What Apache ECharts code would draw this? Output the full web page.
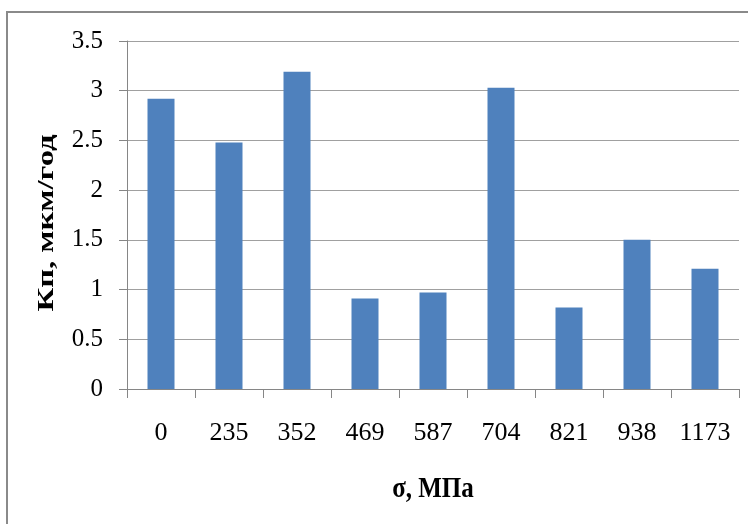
<!DOCTYPE html>
<html>
<head>
<meta charset="utf-8">
<script src="https://cdn.jsdelivr.net/npm/echarts@6/dist/echarts.min.js"></script>
<style>
  html, body { margin: 0; padding: 0; background: #fff; }
  #chart { width: 748px; height: 524px; }
</style>
</head>
<body>
<div id="chart"></div>
<script>
// Stress levels (MPa) and corrosion rate (µm/year)
const stressLevels = ['0', '235', '352', '469', '587', '704', '821', '938', '1173'];
const corrosionRate = [2.92, 2.48, 3.19, 0.91, 0.97, 3.03, 0.82, 1.50, 1.21];
const yTicks = [0, 0.5, 1, 1.5, 2, 2.5, 3, 3.5];
const xTitle = 'σ, МПа';
const yTitle = 'Кп, мкм/год';

const serif = '"Liberation Serif", "DejaVu Serif", serif';
const axisGray = '#868686';

const chart = echarts.init(document.getElementById('chart'), null, { renderer: 'canvas' });

chart.setOption({
  animation: false,
  backgroundColor: '#ffffff',
  graphic: [
    {
      type: 'rect',
      shape: { x: 7, y: 12, width: 800, height: 600 },
      style: { fill: 'none', stroke: '#8a8a8a', lineWidth: 2 },
      silent: true
    },
    {
      // axis titles, drawn slightly tall like the tick labels' typeface
      type: 'text',
      x: 433, y: 489,
      scaleY: 1.2,
      style: {
        text: xTitle, fill: '#000',
        font: 'bold 25px ' + serif,
        align: 'center', verticalAlign: 'middle'
      },
      silent: true
    },
    {
      type: 'text',
      x: 47, y: 223,
      rotation: Math.PI / 2,
      scaleX: 1.36,
      style: {
        text: yTitle, fill: '#000',
        font: 'bold 24px ' + serif,
        align: 'center', verticalAlign: 'middle'
      },
      silent: true
    }
  ],
  grid: { left: 127, right: 9, top: 41, bottom: 135 },
  xAxis: {
    type: 'category',
    data: stressLevels,
    axisLine: { lineStyle: { color: axisGray, width: 1 } },
    axisTick: { show: true, length: 9, lineStyle: { color: axisGray } },
    axisLabel: { fontFamily: serif, fontSize: 26, color: '#000', margin: 31 },
    splitLine: { show: false }
  },
  yAxis: {
    type: 'value',
    min: yTicks[0],
    max: yTicks[yTicks.length - 1],
    interval: 0.5,
    axisLine: { show: true, lineStyle: { color: axisGray, width: 1 } },
    axisTick: { show: true, length: 8, lineStyle: { color: axisGray } },
    axisLabel: { fontFamily: serif, fontSize: 25, color: '#000', margin: 24 },
    splitLine: { show: true, lineStyle: { color: '#a0a0a0', width: 1 } }
  },
  series: [{
    type: 'bar',
    data: corrosionRate,
    barWidth: 27,
    itemStyle: { color: '#4f81bd' }
  }]
});
</script>
</body>
</html>
